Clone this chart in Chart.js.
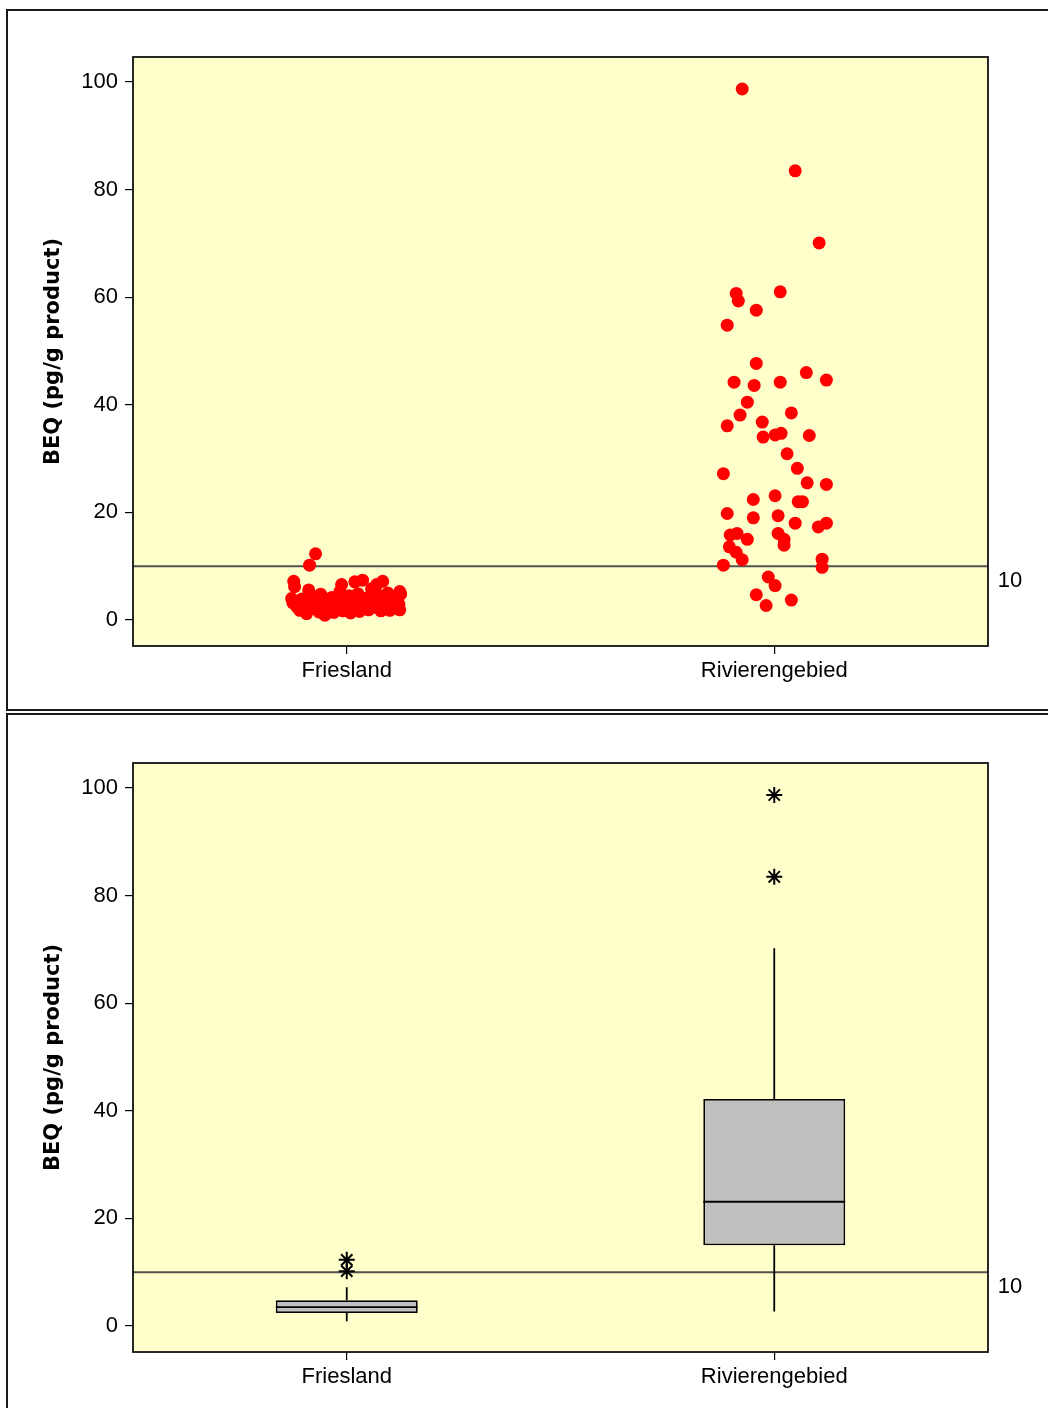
<!DOCTYPE html>
<html>
<head>
<meta charset="utf-8">
<script src="https://cdn.jsdelivr.net/npm/chart.js@4/dist/chart.umd.min.js"></script>
<style>
  body { margin: 0; background: #fff; width: 1048px; height: 1408px; overflow: hidden; position: relative; }
  .panel { position: absolute; left: 6px; width: 1100px; border: 2px solid #1a1a1a; box-sizing: border-box; }
  canvas { position: absolute; left: 7px; }
</style>
</head>
<body>
<div class="panel" style="top:9px; height:702px;"></div>
<div class="panel" style="top:713px; height:800px;"></div>
<canvas id="dotChart" width="1041" height="700" style="top:10px;"></canvas>
<canvas id="boxChart" width="1041" height="693" style="top:715px;"></canvas>
<script>
// categories and axis ticks
const groups = ["Friesland", "Rivierengebied"];
const yTicks = [0, 20, 40, 60, 80, 100];
const limitValue = 10;

// individual samples: BEQ value + horizontal jitter (in category units)
const friesVals = [12.3, 10.2, 7.2, 6.2, 5.6, 6.6, 4.0, 7.4, 7.1, 7.2, 6.6, 5.3,
  3.2, 2.5, 1.8, 3.9, 2.9, 1.2, 4.4, 2.2, 3.4, 1.5, 4.8, 2.7, 0.9, 3.6, 2.0, 4.2,
  1.4, 3.1, 2.4, 5.3, 1.7, 3.8, 2.8, 4.5, 1.3, 3.3, 2.1, 4.9, 1.6, 3.0, 2.5, 4.1,
  1.9, 5.8, 3.5, 2.3, 4.6, 1.7, 3.9, 2.6, 5.0, 1.8, 3.2, 4.3, 2.4, 3.7, 1.9, 4.8, 2.9];
const friesJitter = [-0.073, -0.087, -0.124, -0.122, -0.089, -0.012, -0.129, 0.037, 0.019, 0.084, 0.070, 0.124,
  -0.126, -0.117, -0.110, -0.105, -0.098, -0.094, -0.084, -0.080, -0.070, -0.065, -0.061, -0.056, -0.051, -0.047, -0.042, -0.035,
  -0.030, -0.026, -0.021, -0.016, -0.009, -0.005, 0.000, 0.005, 0.009, 0.014, 0.021, 0.026, 0.030, 0.035, 0.042, 0.047,
  0.051, 0.058, 0.063, 0.070, 0.075, 0.080, 0.087, 0.091, 0.096, 0.101, 0.105, 0.110, 0.115, 0.119, 0.124, 0.126, 0.122];

const rivierVals = [98.7, 83.5, 70.1, 60.7, 59.3, 61.0, 57.6, 54.8, 47.7, 44.2, 43.6, 44.2, 46.0, 44.6,
  40.5, 38.1, 38.5, 36.1, 36.8, 34.0, 34.4, 34.7, 34.3, 30.9, 28.2, 27.2, 25.5, 25.2, 22.4, 23.1,
  22.0, 22.0, 19.8, 19.0, 19.4, 18.0, 17.3, 18.0, 15.8, 16.1, 15.0, 16.1, 15.0, 13.9, 13.6, 12.6,
  11.2, 10.2, 11.3, 9.8, 8.0, 6.4, 4.7, 2.7, 3.7];
const rivierJitter = [-0.075, 0.049, 0.105, -0.089, -0.084, 0.014, -0.042, -0.110, -0.042, -0.094, -0.047, 0.014, 0.075, 0.122,
  -0.063, -0.080, 0.040, -0.110, -0.028, -0.026, 0.002, 0.016, 0.082, 0.030, 0.054, -0.119, 0.077, 0.122, -0.049, 0.002,
  0.056, 0.066, -0.110, -0.049, 0.009, 0.049, 0.103, 0.122, -0.103, -0.087, -0.063, 0.009, 0.023, 0.023, -0.105, -0.089,
  -0.075, -0.119, 0.112, 0.112, -0.014, 0.002, -0.042, -0.019, 0.040];

// box plot summary
const boxMin = [0.9, 2.7];
const boxQ1 = [2.4, 15.0];
const boxMedian = [3.5, 23.1];
const boxQ3 = [4.8, 42.2];
const boxMax = [7.2, 70.2];
const friesOutliers = [12.3, 10.2];
const rivierOutliers = [98.7, 83.5];

Chart.defaults.color = "#000";
Chart.defaults.font.family = "'Liberation Sans', Arial, sans-serif";
Chart.defaults.font.size = 22;

// yellow plot area, frame, reference line at 10 and its label
const frame = {
    id: "frame",
    beforeDraw(chart) {
        const { ctx, chartArea: a } = chart;
        ctx.save();
        ctx.fillStyle = "#FFFFCC";
        ctx.fillRect(a.left, a.top, a.right - a.left, a.bottom - a.top);
        ctx.restore();
    },
    beforeDatasetsDraw(chart) {
        const { ctx, chartArea: a } = chart;
        const y = chart.scales.y.getPixelForValue(limitValue);
        ctx.save();
        ctx.strokeStyle = "#505050";
        ctx.lineWidth = 2;
        ctx.beginPath();
        ctx.moveTo(a.left, y);
        ctx.lineTo(a.right, y);
        ctx.stroke();
        ctx.fillStyle = "#000";
        ctx.font = "22px 'Liberation Sans', Arial, sans-serif";
        ctx.textAlign = "center";
        ctx.textBaseline = "middle";
        ctx.fillText(String(limitValue), a.right + 22, y + 15);
        ctx.restore();
    },
    afterDraw(chart) {
        const { ctx, chartArea: a } = chart;
        ctx.save();
        ctx.strokeStyle = "#111";
        ctx.lineWidth = 1.8;
        ctx.strokeRect(a.left, a.top, a.right - a.left, a.bottom - a.top);
        ctx.restore();
    }
};

function yAxis() {
    return {
        min: -4.83,
        max: 104.65,
        afterBuildTicks: (s) => { s.ticks = yTicks.map(v => ({ value: v })); },
        afterFit: (s) => { s.width = 126; },
        grid: { drawOnChartArea: false, color: "#000", tickLength: 8, lineWidth: 1.2 },
        border: { display: false },
        ticks: { padding: 7 },
        title: {
            display: true,
            text: "BEQ (pg/g product)",
            font: { family: "'DejaVu Sans', sans-serif", size: 21, weight: "bold" },
            padding: { top: 34 }
        }
    };
}

// ✅ 1. individual values
new Chart(document.getElementById("dotChart"), {
    type: "scatter",
    data: {
        datasets: [
            {
                data: friesVals.map((v, i) => ({ x: 1 + friesJitter[i], y: v })),
                backgroundColor: "#FF0000",
                borderWidth: 0,
                pointRadius: 6.5
            },
            {
                data: rivierVals.map((v, i) => ({ x: 2 + rivierJitter[i], y: v })),
                backgroundColor: "#FF0000",
                borderWidth: 0,
                pointRadius: 6.5
            }
        ]
    },
    options: {
        responsive: false,
        animation: false,
        layout: { padding: { top: 47, right: 60, left: 0, bottom: 0 } },
        plugins: { legend: { display: false }, tooltip: { enabled: false } },
        scales: {
            x: {
                type: "linear",
                min: 0.5,
                max: 2.5,
                afterBuildTicks: (s) => { s.ticks = groups.map((g, i) => ({ value: i + 1 })); },
                afterFit: (s) => { s.height = 64; },
                grid: { drawOnChartArea: false, color: "#000", tickLength: 8, lineWidth: 1.2 },
                border: { display: false },
                ticks: { padding: 4, callback: (v) => groups[v - 1] }
            },
            y: yAxis()
        }
    },
    plugins: [frame]
});

// ✅ 2. boxplot: whiskers and median drawn on top of the floating bars
const boxParts = {
    id: "boxParts",
    afterDatasetsDraw(chart) {
        const { ctx } = chart;
        const xs = chart.scales.x, ys = chart.scales.y;
        const bars = chart.getDatasetMeta(0).data;
        ctx.save();
        ctx.strokeStyle = "#000";
        ctx.lineWidth = 1.8;
        groups.forEach((g, i) => {
            const x = xs.getPixelForValue(i);
            const half = bars[i].width / 2;
            ctx.beginPath();
            ctx.moveTo(x, ys.getPixelForValue(boxQ3[i]));
            ctx.lineTo(x, ys.getPixelForValue(boxMax[i]));
            ctx.moveTo(x, ys.getPixelForValue(boxQ1[i]));
            ctx.lineTo(x, ys.getPixelForValue(boxMin[i]));
            const m = ys.getPixelForValue(boxMedian[i]);
            ctx.moveTo(x - half, m);
            ctx.lineTo(x + half, m);
            ctx.stroke();
        });
        ctx.restore();
    }
};

new Chart(document.getElementById("boxChart"), {
    type: "bar",
    data: {
        labels: groups,
        datasets: [
            {
                data: boxQ1.map((q, i) => [q, boxQ3[i]]),
                backgroundColor: "#C0C0C0",
                borderColor: "#000",
                borderWidth: 1.8,
                borderSkipped: false,
                barPercentage: 0.332,
                categoryPercentage: 1
            },
            {
                type: "line",
                showLine: false,
                data: friesOutliers.map(v => ({ x: groups[0], y: v }))
                    .concat(rivierOutliers.map(v => ({ x: groups[1], y: v }))),
                pointStyle: "star",
                pointRadius: 8,
                borderColor: "#000",
                borderWidth: 2,
                backgroundColor: "#000"
            }
        ]
    },
    options: {
        responsive: false,
        animation: false,
        layout: { padding: { top: 48, right: 60, left: 0, bottom: 0 } },
        plugins: { legend: { display: false }, tooltip: { enabled: false } },
        scales: {
            x: {
                afterFit: (s) => { s.height = 56; },
                grid: { offset: false, drawOnChartArea: false, color: "#000", tickLength: 8, lineWidth: 1.2 },
                border: { display: false },
                ticks: { padding: 4 }
            },
            y: yAxis()
        }
    },
    plugins: [frame, boxParts]
});
</script>
</body>
</html>
